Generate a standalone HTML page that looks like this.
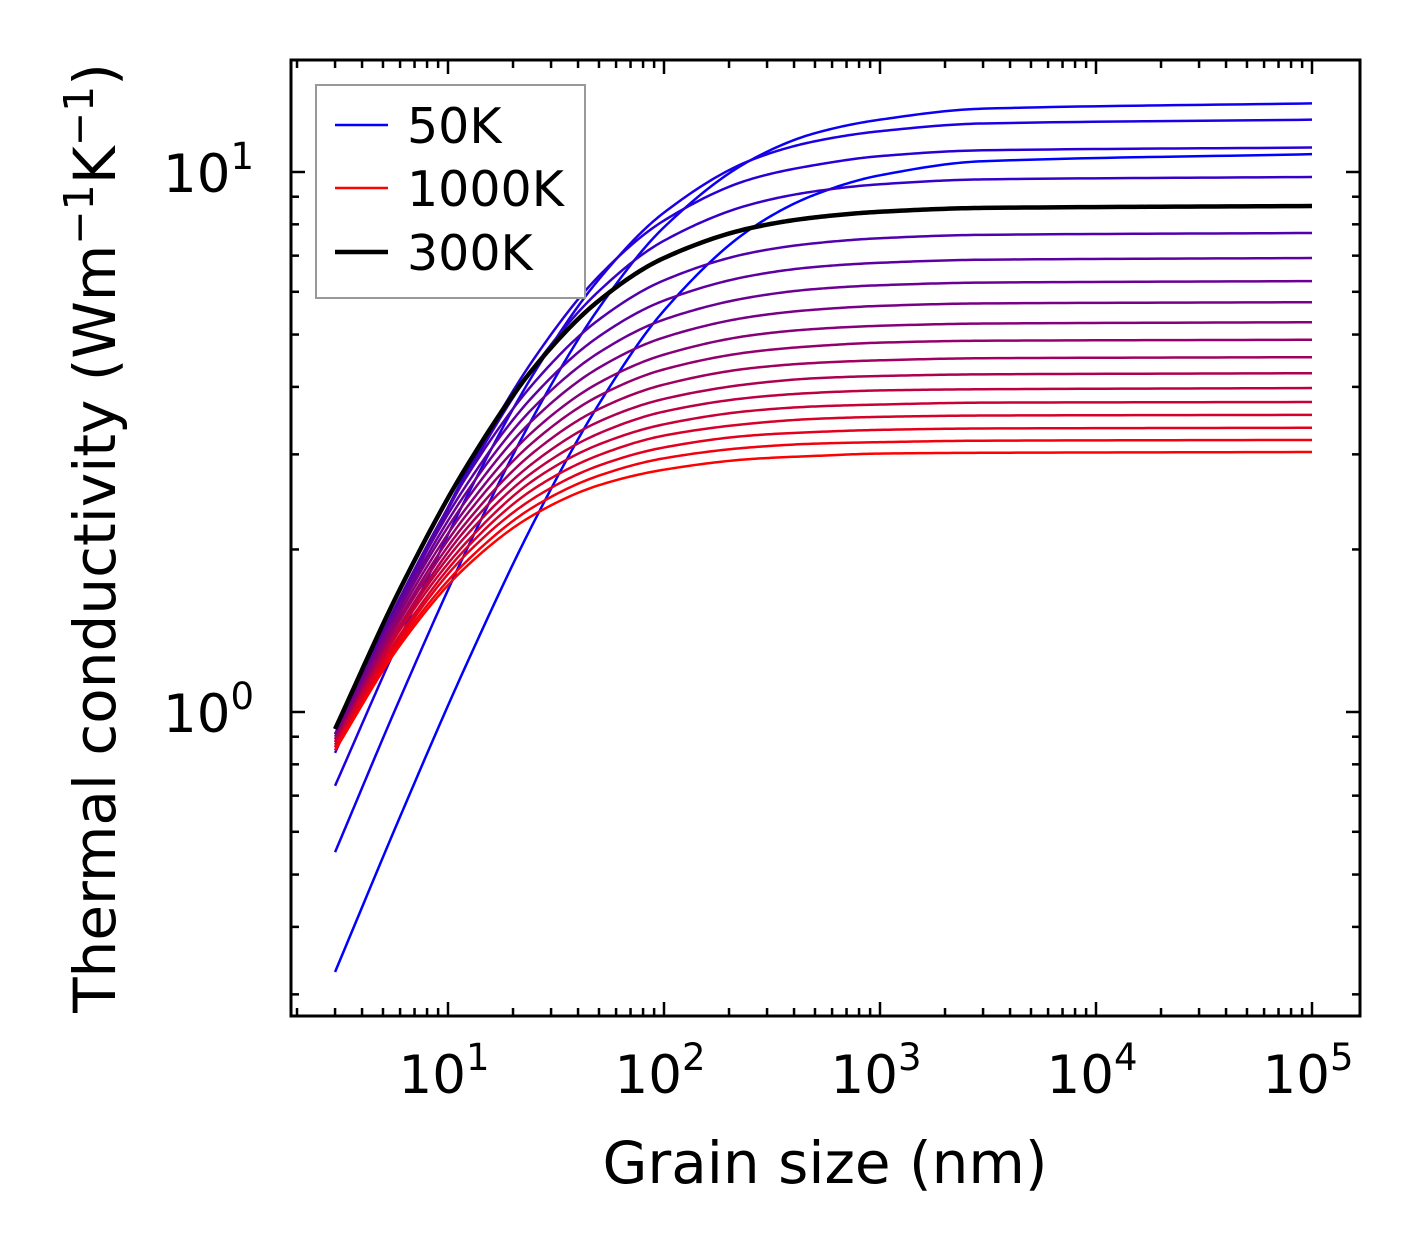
<!DOCTYPE html>
<html><head><meta charset="utf-8">
<style>
html,body{margin:0;padding:0;background:#fff;}
svg{display:block;font-family:"DejaVu Sans","Liberation Sans",sans-serif;}
</style></head>
<body>
<svg id="chart" width="1421" height="1254" viewBox="0 0 1421 1254" xmlns="http://www.w3.org/2000/svg">
<rect x="0" y="0" width="1421" height="1254" fill="#fff"/>
<g id="curves"></g>
<g id="ticks"></g>
<rect x="291" y="60" width="1069" height="956" fill="none" stroke="#000" stroke-width="3"/>
<g>
<rect x="316" y="85" width="269" height="213" fill="#fff" stroke="#999" stroke-width="2"/>
<line x1="335" y1="125" x2="388" y2="125" stroke="#0000ff" stroke-width="2.5"/>
<text x="407" y="143" font-size="49">50K</text>
<line x1="335" y1="188" x2="388" y2="188" stroke="#ff0000" stroke-width="2.5"/>
<text x="407" y="206" font-size="49">1000K</text>
<line x1="335" y1="252" x2="388" y2="252" stroke="#000" stroke-width="4.5"/>
<text x="407" y="270" font-size="49">300K</text>
</g>
<text x="825" y="1183" font-size="58" text-anchor="middle">Grain size (nm)</text>
<text transform="translate(115,538) rotate(-90)" font-size="58" text-anchor="middle">Thermal conductivity (Wm<tspan font-size="41" dy="-22">−1</tspan><tspan dy="22">K</tspan><tspan font-size="41" dy="-22">−1</tspan><tspan dy="22">)</tspan></text>
</svg>
<script>
const grainSizes = [3, 6, 12, 25, 50, 100, 250, 500, 1000, 3000, 100000];
const temperatures = [50,100,150,200,250,300,350,400,450,500,550,600,650,700,750,800,850,900,950,1000];
const k50 = [0.33,0.64,1.21,2.25,3.72,5.54,7.83,9.08,9.86,10.47,10.79];
const k100 = [0.55,1.06,1.97,3.54,5.60,7.90,10.5,11.8,12.5,13.1,13.4];
const k150 = [0.73,1.37,2.47,4.24,6.33,8.41,10.5,11.4,11.9,12.3,12.5];
const k200 = [0.84,1.57,2.75,4.51,6.42,8.13,9.69,10.3,10.7,10.97,11.1];
const k250 = [0.86,1.58,2.71,4.35,6.02,7.46,8.70,9.21,9.49,9.69,9.79];
const k300 = [0.93,1.69,2.82,4.34,5.78,6.93,7.87,8.24,8.44,8.58,8.65];
const k350 = [0.91,1.63,2.70,4.07,5.33,6.30,7.08,7.38,7.54,7.65,7.71];
const k400 = [0.91,1.61,2.61,3.86,4.96,5.78,6.42,6.67,6.79,6.88,6.93];
const k450 = [0.91,1.58,2.53,3.67,4.63,5.33,5.86,6.07,6.17,6.24,6.28];
const k500 = [0.90,1.56,2.45,3.49,4.34,4.94,5.39,5.56,5.65,5.71,5.74];
const k550 = [0.89,1.53,2.37,3.32,4.07,4.59,4.98,5.12,5.19,5.24,5.27];
const k600 = [0.89,1.50,2.30,3.17,3.85,4.31,4.64,4.76,4.83,4.87,4.89];
const k650 = [0.88,1.48,2.23,3.03,3.64,4.04,4.33,4.43,4.48,4.52,4.54];
const k700 = [0.88,1.45,2.17,2.90,3.45,3.80,4.05,4.15,4.19,4.22,4.24];
const k750 = [0.88,1.44,2.11,2.79,3.28,3.60,3.82,3.90,3.94,3.96,3.98];
const k800 = [0.87,1.42,2.05,2.69,3.13,3.41,3.61,3.68,3.71,3.74,3.75];
const k850 = [0.87,1.39,2.00,2.59,2.99,3.25,3.42,3.49,3.52,3.54,3.55];
const k900 = [0.86,1.37,1.95,2.49,2.86,3.09,3.25,3.30,3.33,3.35,3.36];
const k950 = [0.85,1.35,1.89,2.40,2.74,2.95,3.09,3.14,3.16,3.18,3.19];
const k1000 = [0.85,1.33,1.85,2.32,2.63,2.81,2.94,2.98,3.01,3.02,3.03];
const series = [k50,k100,k150,k200,k250,k300,k350,k400,k450,k500,k550,k600,k650,k700,k750,k800,k850,k900,k950,k1000];
const xTickLabels = ["1","2","3","4","5"];
const yTickLabels = ["0","1"];
const highlightTemp = 300;

const NS = "http://www.w3.org/2000/svg";
function xs(v){ return 232 + 216*Math.log10(v); }
function ys(v){ return 712 - 540*Math.log10(v); }

function pathFor(vals){
  const X = grainSizes.map(g=>Math.log10(g)), Y = vals.map(v=>Math.log10(v));
  const n = X.length, d = [], m = new Array(n);
  for(let i=0;i<n-1;i++) d.push((Y[i+1]-Y[i])/(X[i+1]-X[i]));
  m[0]=d[0]; m[n-1]=d[n-2];
  for(let i=1;i<n-1;i++){ m[i] = (d[i-1]*d[i]<=0)?0:2/(1/d[i-1]+1/d[i]); }
  let s = "";
  for(let i=0;i<n-1;i++){
    const h = X[i+1]-X[i];
    const steps = 24;
    for(let k=(i===0?0:1);k<=steps;k++){
      const t=k/steps, t2=t*t, t3=t2*t;
      const y = (2*t3-3*t2+1)*Y[i] + (t3-2*t2+t)*h*m[i] + (-2*t3+3*t2)*Y[i+1] + (t3-t2)*h*m[i+1];
      const x = X[i]+t*h;
      const px = 232+216*x, py = 712-540*y;
      s += (s?" L":"M")+px.toFixed(2)+","+py.toFixed(2);
    }
  }
  return s;
}
const cg = document.getElementById("curves");
const n = series.length;
series.forEach((vals,i)=>{
  const t = i/(n-1);
  const p = document.createElementNS(NS,"path");
  p.setAttribute("d", pathFor(vals));
  p.setAttribute("fill","none");
  p.setAttribute("stroke","rgb("+Math.round(255*t)+",0,"+Math.round(255*(1-t))+")");
  p.setAttribute("stroke-width","2.5");
  
  
  cg.appendChild(p);
});
const hi = temperatures.indexOf(highlightTemp);
if(hi>=0){
  const p = document.createElementNS(NS,"path");
  p.setAttribute("d", pathFor(series[hi]));
  p.setAttribute("fill","none");
  p.setAttribute("stroke","#000");
  p.setAttribute("stroke-width","4.5");
  
  
  cg.appendChild(p);
}

const tg = document.getElementById("ticks");
const L=291,R=1360,T=60,B=1016;
function line(x1,y1,x2,y2,name){
  const l=document.createElementNS(NS,"line");
  l.setAttribute("x1",x1);l.setAttribute("y1",y1);l.setAttribute("x2",x2);l.setAttribute("y2",y2);
  l.setAttribute("stroke","#000");l.setAttribute("stroke-width","2.5");
  
  
  tg.appendChild(l);
}
for(let e=0;e<=5;e++){
  for(let m=1;m<=9;m++){
    const v=m*Math.pow(10,e), x=xs(v);
    if(x<L+1||x>R-1) continue;
    const len = m===1?14:8;
    line(x,B,x,B-len,'x-tick');
    line(x,T,x,T+len,'x-tick-top');
  }
}
for(let e=-1;e<=1;e++){
  for(let m=1;m<=9;m++){
    const v=m*Math.pow(10,e), y=ys(v);
    if(y<T+1||y>B-1) continue;
    const len = m===1?14:8;
    line(L,y,L+len,y,'y-tick');
    line(R,y,R-len,y,'y-tick-right');
  }
}
xTickLabels.forEach(s=>{
  const t=document.createElementNS(NS,"text");
  t.setAttribute("x",xs(Math.pow(10,+s))-4);t.setAttribute("y",1093);
  t.setAttribute("font-size","53");t.setAttribute("text-anchor","middle");
  t.innerHTML='10<tspan font-size="37" dy="-23">'+s+'</tspan>';
  
  
  tg.appendChild(t);
});
yTickLabels.forEach(s=>{
  const t=document.createElementNS(NS,"text");
  t.setAttribute("x",163);t.setAttribute("y",ys(Math.pow(10,+s))+20);
  t.setAttribute("font-size","53");
  t.innerHTML='10<tspan font-size="37" dy="-23">'+s+'</tspan>';
  
  
  tg.appendChild(t);
});
</script>
</body></html>
